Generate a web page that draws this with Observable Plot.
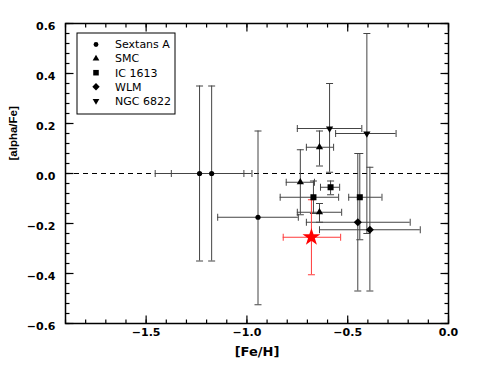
<!DOCTYPE html>
<html>
<head>
<meta charset="utf-8">
<script src="https://cdn.jsdelivr.net/npm/d3@7"></script>
<script src="https://cdn.jsdelivr.net/npm/@observablehq/plot@0.6"></script>
<style>
  html, body { margin: 0; padding: 0; background: #fff; }
  #chart { width: 478px; height: 372px; }
</style>
</head>
<body>
<div id="chart"></div>
<script>
// ---- data ----
const galaxies = ["Sextans A", "SMC", "IC 1613", "WLM", "NGC 6822"];
const galaxy  = ["Sextans A", "Sextans A", "Sextans A", "SMC", "SMC", "SMC", "IC 1613", "IC 1613", "IC 1613", "WLM", "WLM", "NGC 6822", "NGC 6822"];
const feh     = [-1.235, -1.175, -0.945, -0.735, -0.64, -0.64, -0.67, -0.585, -0.44, -0.45, -0.39, -0.59, -0.405];
const fehLo   = [-1.455, -1.375, -1.145, -0.805, -0.705, -0.75, -0.835, -0.635, -0.495, -0.705, -0.64, -0.75, -0.56];
const fehHi   = [-1.015, -0.975, -0.745, -0.665, -0.57, -0.53, -0.545, -0.54, -0.33, -0.19, -0.14, -0.43, -0.26];
const alpha   = [0.0, 0.0, -0.175, -0.035, 0.105, -0.155, -0.095, -0.055, -0.095, -0.195, -0.225, 0.18, 0.16];
const alphaLo = [-0.35, -0.35, -0.525, -0.165, 0.03, -0.195, -0.16, -0.085, -0.265, -0.47, -0.47, 0.005, -0.24];
const alphaHi = [0.35, 0.35, 0.17, 0.095, 0.17, -0.12, -0.03, -0.03, 0.08, 0.08, 0.025, 0.36, 0.56];

// the red star
const starFeh = [-0.68], starFehLo = [-0.82], starFehHi = [-0.535];
const starAlpha = [-0.255], starAlphaLo = [-0.405], starAlphaHi = [-0.105];

const xMajor = [-1.5, -1.0, -0.5, 0.0];
const xMinor = d3.range(-19, 1).map(i => i / 10);
const yMajor = [-0.6, -0.4, -0.2, 0.0, 0.2, 0.4, 0.6];
const yMinor = d3.range(-15, 16).map(i => i * 0.04);

// ---- build tables ----
const pts = feh.map((x, i) => ({g: galaxy[i], x, xlo: fehLo[i], xhi: fehHi[i], y: alpha[i], ylo: alphaLo[i], yhi: alphaHi[i]}));
const star = starFeh.map((x, i) => ({x, xlo: starFehLo[i], xhi: starFehHi[i], y: starAlpha[i], ylo: starAlphaLo[i], yhi: starAlphaHi[i]}));

// ---- symbols ----
const sq3 = Math.sqrt(3);
const downTriangle = {draw(ctx, size) {
  const y = -Math.sqrt(size / (sq3 * 3));
  ctx.moveTo(0, -y * 2); ctx.lineTo(-sq3 * y, y); ctx.lineTo(sq3 * y, y); ctx.closePath();
}};
const diamondSq = {draw(ctx, size) {
  const r = Math.sqrt(size / 2);
  ctx.moveTo(0, -r); ctx.lineTo(r, 0); ctx.lineTo(0, r); ctx.lineTo(-r, 0); ctx.closePath();
}};
const hCap = {draw(ctx, size) { const w = Math.sqrt(size); ctx.moveTo(-w, 0); ctx.lineTo(w, 0); }};
const vCap = {draw(ctx, size) { const w = Math.sqrt(size); ctx.moveTo(0, -w); ctx.lineTo(0, w); }};
// inward tick symbols (length = sqrt(size))
const tickUp    = {draw(ctx, size) { ctx.moveTo(0, 0); ctx.lineTo(0, -Math.sqrt(size)); }};
const tickDown  = {draw(ctx, size) { ctx.moveTo(0, 0); ctx.lineTo(0, Math.sqrt(size)); }};
const tickRight = {draw(ctx, size) { ctx.moveTo(0, 0); ctx.lineTo(Math.sqrt(size), 0); }};
const tickLeft  = {draw(ctx, size) { ctx.moveTo(0, 0); ctx.lineTo(-Math.sqrt(size), 0); }};
const rLen = L => L / Math.sqrt(Math.PI);

const symbolOf = {"Sextans A": d3.symbolCircle, "SMC": d3.symbolTriangle, "IC 1613": d3.symbolSquare, "WLM": diamondSq, "NGC 6822": downTriangle};
const rOf = {"Sextans A": 2.6, "SMC": 2.7, "IC 1613": 3.4, "WLM": 3.2, "NGC 6822": 2.7};

const capR = rLen(3.5);
const errStroke = "#444";
const starStroke = "#ff3b3b";

function errorMarks(data, stroke) {
  return [
    Plot.ruleX(data, {x: "x", y1: "ylo", y2: "yhi", stroke, strokeWidth: 1}),
    Plot.ruleY(data, {y: "y", x1: "xlo", x2: "xhi", stroke, strokeWidth: 1}),
    Plot.dot(data, {x: "x", y: "ylo", symbol: hCap, r: capR, stroke, strokeWidth: 1, fill: "none"}),
    Plot.dot(data, {x: "x", y: "yhi", symbol: hCap, r: capR, stroke, strokeWidth: 1, fill: "none"}),
    Plot.dot(data, {x: "xlo", y: "y", symbol: vCap, r: capR, stroke, strokeWidth: 1, fill: "none"}),
    Plot.dot(data, {x: "xhi", y: "y", symbol: vCap, r: capR, stroke, strokeWidth: 1, fill: "none"})
  ];
}

function tickMarks(values, axis, anchor, symbol, len) {
  const opts = {frameAnchor: anchor, symbol, r: rLen(len), stroke: "#000", strokeWidth: 1.2, fill: "none"};
  return Plot.dot(values, axis === "x" ? {x: d => d, ...opts} : {y: d => d, ...opts});
}

const fmt = d3.format(".1f");

const chart = Plot.plot({
  width: 478,
  height: 372,
  marginLeft: 65,
  marginRight: 30,
  marginTop: 23,
  marginBottom: 49,
  style: {fontFamily: "DejaVu Sans", fontSize: "11px", fontWeight: "bold", background: "#fff", color: "#000"},
  x: {domain: [-1.9, 0.0]},
  y: {domain: [-0.6, 0.6]},
  marks: [
    Plot.ruleY([0], {stroke: "#000", strokeWidth: 1, strokeDasharray: "5,4"}),
    ...errorMarks(pts, errStroke),
    ...errorMarks(star, starStroke),
    ...galaxies.map(g => Plot.dot(pts.filter(d => d.g === g), {x: "x", y: "y", symbol: symbolOf[g], r: rOf[g], fill: "#000", stroke: "none"})),
    Plot.dot(star, {x: "x", y: "y", symbol: "star", r: 5.6, fill: "#ff0000", stroke: "none"}),
    // tick labels
    Plot.axisX({anchor: "bottom", ticks: xMajor, tickSize: 0, tickPadding: 5, tickFormat: fmt, label: null}),
    Plot.axisY({anchor: "left", ticks: yMajor, tickSize: 0, tickPadding: 10, dy: 2.5, tickFormat: fmt, label: null}),
    // inward ticks on all four sides
    tickMarks(xMajor, "x", "bottom", tickUp, 8),
    tickMarks(xMinor, "x", "bottom", tickUp, 4),
    tickMarks(xMajor, "x", "top", tickDown, 8),
    tickMarks(xMinor, "x", "top", tickDown, 4),
    tickMarks(yMajor, "y", "left", tickRight, 8),
    tickMarks(yMinor, "y", "left", tickRight, 4),
    tickMarks(yMajor, "y", "right", tickLeft, 8),
    tickMarks(yMinor, "y", "right", tickLeft, 4),
    Plot.frame({stroke: "#000", strokeWidth: 1.5}),
    Plot.text(["[Fe/H]"], {text: d => d, frameAnchor: "bottom", dy: 32, fontSize: 13, fontWeight: "bold"}),
    Plot.text(["[alpha/Fe]"], {text: d => d, frameAnchor: "left", dx: -52, dy: -13, rotate: -90, fontSize: 11.5, fontFamily: "Liberation Sans", fontWeight: "bold"})
  ]
});

document.getElementById("chart").appendChild(chart);

// ---- legend inside the plot area (top-left) ----
const svg = d3.select(chart.tagName.toLowerCase() === "svg" ? chart : chart.querySelector("svg"));
const lg = svg.append("g").attr("transform", "translate(77,33)");
lg.append("rect").attr("x", 0).attr("y", 0).attr("width", 98).attr("height", 81)
  .attr("fill", "#fff").attr("stroke", "#000").attr("stroke-width", 1);
galaxies.forEach((g, i) => {
  const row = lg.append("g").attr("transform", `translate(19,${11.5 + 14.1 * i})`);
  row.append("path").attr("d", d3.symbol(symbolOf[g], Math.PI * rOf[g] * rOf[g] * 0.85)()).attr("fill", "#000");
  row.append("text").attr("x", 19).attr("y", 0).attr("dy", "0.35em")
    .attr("text-anchor", "start")
    .attr("font-family", "DejaVu Sans").attr("font-size", 11).attr("font-weight", "normal")
    .attr("fill", "#000").text(g);
});
</script>
</body>
</html>
